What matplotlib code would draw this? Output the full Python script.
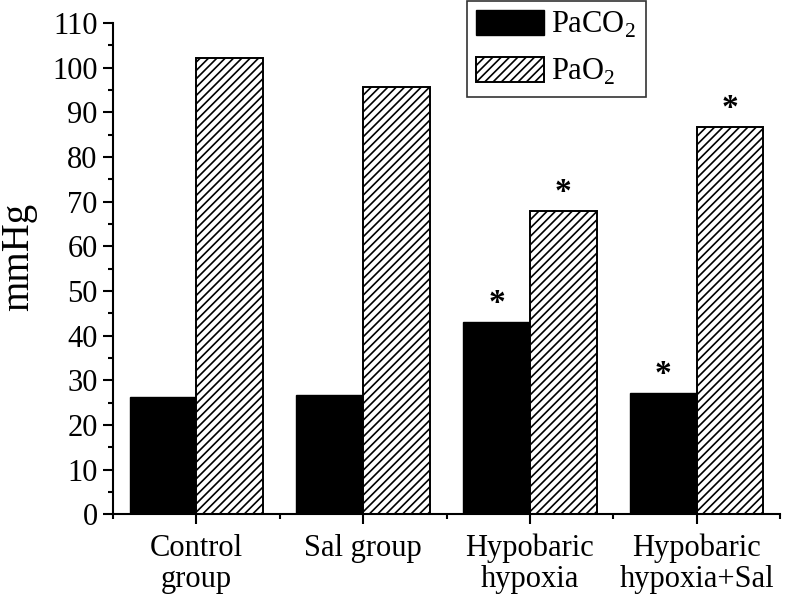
import numpy as np
import matplotlib
matplotlib.use("Agg")
import matplotlib.pyplot as plt
from matplotlib.ticker import MultipleLocator, FixedLocator

plt.rcParams["font.family"] = ["Liberation Serif", "DejaVu Serif"]
plt.rcParams["mathtext.fontset"] = "custom"
plt.rcParams["mathtext.rm"] = "Liberation Serif"
plt.rcParams["hatch.linewidth"] = 1.2

groups = ["Control\ngroup", "Sal group", "Hypobaric\nhypoxia", "Hypobaric\nhypoxia+Sal"]
paco2 = [26.2, 26.8, 43.1, 27.2]
pao2 = [102.2, 95.6, 67.9, 86.7]
paco2_star = [False, False, True, True]
pao2_star = [False, False, True, True]

x = np.arange(1, len(groups) + 1)
w = 0.4

fig = plt.figure(figsize=(7.87, 6.01), dpi=100)
ax = fig.add_axes([0.1436, 0.1443, 0.8475, 0.8174])

ax.bar(x - w / 2, paco2, w, color="black", edgecolor="black", linewidth=1, label=r"PaCO$_2$")
ax.bar(x + w / 2, pao2, w, color="white", edgecolor="black", linewidth=1.4,
       hatch="////", label=r"PaO$_2$")

# significance marks
for xi, v, s in zip(x - w / 2, paco2, paco2_star):
    if s:
        ax.text(xi, v + 0.6, "*", ha="center", va="bottom", fontsize=24, fontweight="bold")
for xi, v, s in zip(x + w / 2, pao2, pao2_star):
    if s:
        ax.text(xi, v + 0.6, "*", ha="center", va="bottom", fontsize=24, fontweight="bold")

ax.set_xlim(0.5, 4.5)
ax.set_ylim(0, 110)
ax.set_xticks(x)
ax.set_xticklabels(groups, fontsize=22, linespacing=1.1)
ax.xaxis.set_minor_locator(FixedLocator([0.5, 1.5, 2.5, 3.5, 4.5]))
ax.yaxis.set_major_locator(MultipleLocator(10))
ax.yaxis.set_minor_locator(MultipleLocator(5))
ax.tick_params(axis="both", which="major", direction="out", length=7, width=1.5, labelsize=22)
ax.tick_params(axis="both", which="minor", direction="out", length=3.6, width=1.5)
ax.tick_params(axis="x", which="major", pad=7)
ax.tick_params(axis="y", which="major", pad=4)

for side in ["top", "right"]:
    ax.spines[side].set_visible(False)
for side in ["left", "bottom"]:
    ax.spines[side].set_linewidth(1.5)

ax.set_ylabel("mmHg", fontsize=28)
ax.yaxis.set_label_coords(-0.114, 0.524)

leg = ax.legend(loc="upper left", bbox_to_anchor=(466.5 / 787, 1 - 0.5 / 601),
                bbox_transform=fig.transFigure, fontsize=22, frameon=True, fancybox=False,
                handlelength=2.2, handleheight=0.88, handletextpad=0.25, borderpad=0.32,
                labelspacing=0.55, borderaxespad=0)
leg.get_frame().set_edgecolor("black")
leg.get_frame().set_linewidth(1.2)

plt.savefig("out.png", dpi=100)
